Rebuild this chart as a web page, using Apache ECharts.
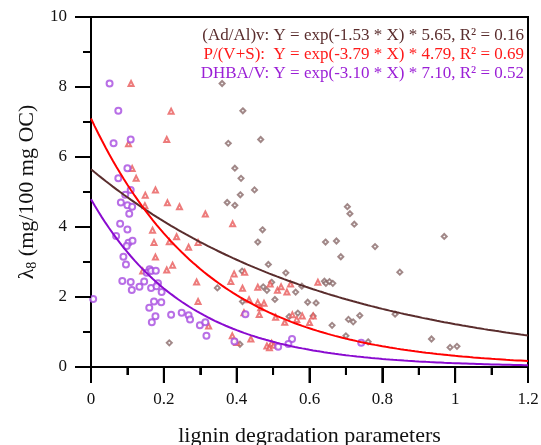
<!DOCTYPE html>
<html><head><meta charset="utf-8">
<script src="https://cdn.jsdelivr.net/npm/echarts@6/dist/echarts.min.js"></script>
<style>html,body{margin:0;padding:0;background:#fff}#c{width:541px;height:445px}</style>
</head><body><div id="c"></div>
<script>
// Scatter data: [x, y]
const adAlPoints = [[0.36,8.1],[0.417,7.32],[0.377,6.39],[0.466,6.5],[0.395,5.68],[0.412,5.39],[0.449,5.06],[0.41,4.92],[0.374,4.7],[0.395,4.62],[0.704,4.58],[0.711,4.38],[0.723,4.08],[0.471,3.92],[0.458,3.57],[0.644,3.57],[0.674,3.6],[0.78,3.44],[0.686,3.15],[0.487,2.93],[0.415,2.74],[0.535,2.69],[0.473,2.29],[0.496,2.42],[0.483,2.19],[0.562,2.14],[0.579,2.31],[0.641,2.45],[0.645,2.39],[0.655,2.44],[0.664,2.39],[0.416,1.87],[0.505,1.93],[0.595,1.85],[0.618,1.83],[0.544,1.44],[0.568,1.54],[0.61,1.46],[0.662,1.19],[0.707,1.36],[0.72,1.29],[0.738,1.47],[0.347,2.26],[0.215,0.69],[0.409,0.65],[0.7,0.89],[0.761,0.72],[0.97,3.73],[0.848,2.71],[0.835,1.51],[0.935,0.8],[0.986,0.56],[1.005,0.59]];
const pvsPoints = [[0.11,8.1],[0.22,7.31],[0.103,6.38],[0.208,6.5],[0.113,5.67],[0.124,5.39],[0.177,5.06],[0.149,4.91],[0.21,4.69],[0.243,4.58],[0.148,4.61],[0.314,4.37],[0.389,4.09],[0.169,3.91],[0.235,3.72],[0.173,3.56],[0.215,3.58],[0.294,3.56],[0.268,3.42],[0.177,3.14],[0.224,2.91],[0.208,2.77],[0.142,2.74],[0.393,2.66],[0.422,2.71],[0.29,2.43],[0.384,2.44],[0.294,1.87],[0.323,1.17],[0.388,0.89],[0.4,0.7],[0.416,2.25],[0.458,2.28],[0.492,2.37],[0.512,2.19],[0.522,2.29],[0.538,2.14],[0.548,2.37],[0.623,2.42],[0.434,1.92],[0.458,1.84],[0.475,1.82],[0.466,1.69],[0.462,1.5],[0.42,1.55],[0.507,1.42],[0.553,1.49],[0.565,1.36],[0.58,1.46],[0.61,1.46],[0.532,1.28],[0.6,1.27],[0.439,0.8],[0.483,0.6],[0.49,0.55],[0.496,0.68],[0.502,0.62]];
const dhbaPoints = [[0.051,8.1],[0.075,7.32],[0.062,6.39],[0.109,6.5],[0.1,5.68],[0.075,5.39],[0.109,5.06],[0.094,4.92],[0.082,4.7],[0.1,4.62],[0.113,4.58],[0.105,4.38],[0.08,4.09],[0.1,3.93],[0.069,3.74],[0.103,3.55],[0.114,3.61],[0.098,3.46],[0.089,3.15],[0.096,2.93],[0.161,2.79],[0.153,2.69],[0.165,2.74],[0.178,2.75],[0.086,2.46],[0.109,2.43],[0.146,2.44],[0.184,2.39],[0.133,2.29],[0.165,2.26],[0.18,2.31],[0.112,2.2],[0.194,2.14],[0.006,1.94],[0.173,1.87],[0.193,1.85],[0.16,1.69],[0.177,1.45],[0.167,1.28],[0.22,1.49],[0.249,1.55],[0.268,1.48],[0.272,1.36],[0.299,1.19],[0.314,1.28],[0.317,0.89],[0.394,0.73],[0.424,1.51],[0.552,0.8],[0.514,0.58],[0.542,0.66],[0.742,0.69]];

// Fitted curves Y = a * exp(b * X), as drawn (coefficients from the chart text)
const curveBrown = {a: 5.65, b: -1.53};
const curveRed = {a: 7.10, b: -3.10};
const curvePurple = {a: 4.79, b: -3.79};
const curveXs = [];
for (let i = 0; i <= 120; i++) curveXs.push(i / 100);

// Axis tick values
const xMajorTicks = [0, 0.2, 0.4, 0.6, 0.8, 1, 1.2];
const xMinorTicks = [0.1, 0.3, 0.5, 0.7, 0.9, 1.1];
const yMajorTicks = [0, 2, 4, 6, 8, 10];
const yMinorTicks = [1, 3, 5, 7, 9];

const fitLabels = [
  '(Ad/Al)v: Y = exp(-1.53 * X) * 5.65, R² = 0.16',
  'P/(V+S):  Y = exp(-3.79 * X) * 4.79, R² = 0.69',
  'DHBA/V: Y = exp(-3.10 * X) * 7.10, R² = 0.52'
];
const xTitle = 'lignin degradation parameters';

function curve(c) { return curveXs.map(x => [x, c.a * Math.exp(c.b * x)]); }

const FONT = 'Liberation Serif';
const chart = echarts.init(document.getElementById('c'), null, {renderer: 'canvas'});
chart.setOption({
  animation: false,
  grid: {left: 91, right: 13, top: 17, bottom: 78, outerBoundsMode: 'none',
         show: true, borderColor: '#000', borderWidth: 2},
  xAxis: {
    type: 'value', min: 0, max: 1.2, interval: 0.2,
    name: xTitle, nameLocation: 'middle', nameGap: 58,
    nameTextStyle: {fontFamily: FONT, fontSize: 22, color: '#111'},
    axisLine: {show: true, lineStyle: {color: '#000', width: 2}},
    axisTick: {show: true, inside: false, length: 16, lineStyle: {color: '#000', width: 2}},
    minorTick: {show: true, splitNumber: 2, length: 8, lineStyle: {color: '#000', width: 2}},
    axisLabel: {show: true, fontFamily: FONT, fontSize: 17, color: '#111', margin: 24},
    splitLine: {show: false}
  },
  yAxis: {
    type: 'value', min: 0, max: 10, interval: 2,
    name: 'λ{s|8} (mg/100 mg OC)', nameLocation: 'middle', nameGap: 52, nameRotate: 90,
    nameTextStyle: {fontFamily: FONT, fontSize: 22, color: '#111', rich: {s: {fontFamily: FONT, fontSize: 14, verticalAlign: 'bottom', padding: [10, 0, 0, 0], color: '#111'}}},
    axisLine: {show: true, lineStyle: {color: '#000', width: 2}},
    axisTick: {show: true, inside: false, length: 16, lineStyle: {color: '#000', width: 2}},
    minorTick: {show: true, splitNumber: 2, length: 8, lineStyle: {color: '#000', width: 2}},
    axisLabel: {show: true, fontFamily: FONT, fontSize: 17, color: '#111', margin: 24},
    splitLine: {show: false}
  },
  series: [
    {type: 'scatter', data: adAlPoints, symbol: 'emptyDiamond', symbolSize: 5, itemStyle: {color: '#8a6a6a', borderWidth: 0.8}},
    {type: 'scatter', data: pvsPoints, symbol: 'emptyTriangle', symbolSize: 5, itemStyle: {color: '#e85a5a', borderWidth: 0.8}},
    {type: 'scatter', data: dhbaPoints, symbol: 'emptyCircle', symbolSize: 6, itemStyle: {color: '#a64be0', borderWidth: 0.9}},
    {type: 'line', data: curve(curveBrown), showSymbol: false, smooth: false, lineStyle: {color: '#5a2d2d', width: 2}, z: 5},
    {type: 'line', data: curve(curveRed), showSymbol: false, smooth: false, lineStyle: {color: '#ff0000', width: 2}, z: 5},
    {type: 'line', data: curve(curvePurple), showSymbol: false, smooth: false, lineStyle: {color: '#8a0bd0', width: 2}, z: 5}
  ]
});

// Backup tick marks positioned through the chart's own scales, on their own layer
const elements = fitLabels.map((t, i) => ({
  type: 'text', right: 17, top: 27 + i * 19, z: 100,
  style: {text: t, fontFamily: FONT, fontSize: 17, fill: ['#5a2d2d', '#ff1a1a', '#9b1fd6'][i]}
}));
function tickRect(x, y, w, h) {
  elements.push({type: 'rect', zlevel: 2, z: 100, silent: true, shape: {x: x, y: y, width: w, height: h}, style: {fill: '#000'}});
}
function xTick(v, len) {
  const p = chart.convertToPixel({gridIndex: 0}, [v, 0]);
  tickRect(p[0] - 1, p[1], 2, len);
}
function yTick(v, len) {
  const p = chart.convertToPixel({gridIndex: 0}, [0, v]);
  tickRect(p[0] - len, p[1] - 1, len, 2);
}
xMajorTicks.forEach(v => xTick(v, 16));
xMinorTicks.forEach(v => xTick(v, 8));
yMajorTicks.forEach(v => yTick(v, 16));
yMinorTicks.forEach(v => yTick(v, 8));
chart.setOption({graphic: {elements: elements}});
</script></body></html>
